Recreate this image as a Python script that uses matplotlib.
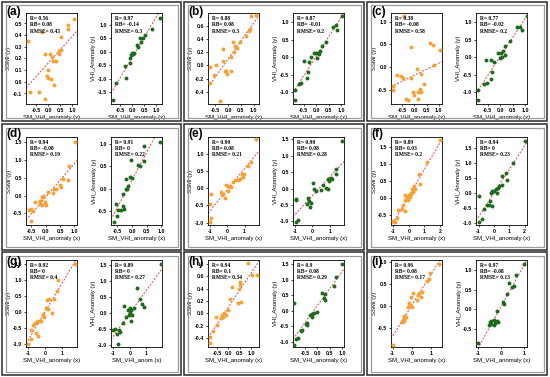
import numpy as np
import matplotlib
matplotlib.use("Agg")
import matplotlib.pyplot as plt
from matplotlib.patches import Rectangle
from matplotlib.ticker import MultipleLocator

plt.rcParams["axes.unicode_minus"] = False
plt.rcParams["font.family"] = ["Liberation Sans", "DejaVu Sans"]

# ---- data ---------------------------------------------------------------
panel_names = ["(a)", "(b)", "(c)", "(d)", "(e)", "(f)", "(g)", "(h)", "(i)"]

a_ssmi_x = [1.10, 0.85, 0.82, -0.26, -0.85, 0.56, -0.11, 0.08, 0.44, 0.22, 0.33, 0.17, 0.47, 0.56, -0.01, -0.04, -0.01, 0.12, 0.26, -0.75, -0.36, -0.11]
a_ssmi_y = [0.54, 0.49, 0.45, 0.43, 0.35, 0.38, 0.24, 0.24, 0.24, 0.18, 0.18, 0.21, 0.26, 0.27, 0.10, 0.05, 0.03, 0.02, -0.03, -0.09, -0.09, -0.15]
a_vhi_x = [1.13, 0.82, 0.53, 0.46, 0.32, 0.36, 0.19, 0.23, 0.05, -0.01, -0.04, -0.08, -0.11, -0.31, -0.26, -0.69, -0.80, 0.03]
a_vhi_y = [1.26, 0.87, 0.64, 0.51, 0.51, 0.35, 0.26, 0.17, -0.04, -0.06, -0.13, -0.22, -0.42, -0.53, -0.96, -1.15, -1.80, -0.09]

b_ssmi_x = [1.09, 0.89, 0.87, 0.83, 0.70, 0.46, 0.20, 0.26, 0.33, 0.24, 0.13, -0.20, -0.20, -0.46, -0.72, -0.55, -0.13, -0.03, 0.11, -0.70, -0.33, -0.10]
b_ssmi_y = [0.76, 0.75, 0.55, 0.52, 0.45, 0.36, 0.36, 0.30, 0.27, 0.21, 0.13, 0.25, 0.07, 0.00, -0.02, -0.14, -0.09, -0.13, -0.09, -0.26, -0.54, -0.08]
b_vhi_x = [1.05, 0.81, 0.67, 0.85, 0.40, 0.22, 0.16, 0.08, -0.08, -0.01, 0.12, 0.05, -0.22, -0.49, -0.29, -0.33, -0.38, -0.59, -0.67, -0.84, -0.86]
b_vhi_y = [1.17, 0.92, 0.87, 0.77, 0.45, 0.32, 0.17, 0.12, 0.14, 0.12, 0.10, -0.03, 0.02, -0.10, -0.13, -0.41, -0.60, -0.73, -0.76, -0.93, -1.21]

c_ssmi_x = [-0.42, 0.63, 0.76, -0.14, 1.04, 0.81, 0.11, -0.72, -0.56, -0.49, -0.14, -0.90, -0.90, 0.38, 0.21, 0.14, -0.07, -0.03, 0.14, -0.35, -0.28, 0.28, 0.28]
c_ssmi_y = [1.12, 0.54, 0.48, 0.44, 0.37, 0.04, -0.04, -0.17, -0.19, -0.23, -0.23, -0.42, -0.50, -0.37, -0.48, -0.54, -0.55, -0.62, -0.71, -0.69, -0.72, -0.14, -0.54]
c_vhi_x = [1.06, 0.80, 0.66, 0.88, 0.38, 0.19, 0.13, 0.05, -0.10, -0.36, -0.56, -0.25, -0.32, -0.38, -0.54, -0.66, -0.88, -0.88, 0.00, 0.08, 0.20]
c_vhi_y = [1.17, 0.87, 0.87, 0.77, 0.47, 0.34, 0.17, 0.12, 0.14, -0.08, -0.08, -0.13, -0.43, -0.63, -0.73, -0.76, -0.93, -1.23, -0.03, 0.02, 0.07]

d_ssmi_x = [1.01, 0.81, 0.78, 0.61, 0.50, 0.53, 0.37, 0.29, 0.26, 0.09, -0.08, -0.13, -0.19, -0.21, -0.13, -0.36, -0.02, 0.01, -0.52, -0.44, -0.58, -0.52, -0.21]
d_ssmi_y = [1.51, 0.82, 0.44, 0.47, 0.31, 0.24, 0.19, 0.19, 0.07, 0.11, 0.00, -0.03, -0.16, -0.24, -0.26, -0.19, -0.19, -0.28, -0.38, -0.44, -0.41, -0.73, -0.16]
d_vhi_x = [0.94, 0.41, 0.42, 0.20, 0.28, -0.04, -0.22, -0.08, 0.01, -0.13, -0.20, -0.31, -0.17, -0.31, -0.48, -0.56, -0.39, -0.53, -0.61, -0.28]
d_vhi_y = [1.04, 0.96, 0.61, 0.52, 0.50, 0.63, 0.22, 0.26, 0.24, 0.07, -0.01, -0.11, 0.00, -0.37, -0.47, -0.33, -0.47, -0.59, -0.73, -0.44]

e_ssmi_x = [1.65, 1.35, 1.21, 0.98, 0.83, 0.92, 0.73, 0.60, 0.44, 0.35, 0.25, 0.06, -0.04, 0.06, -0.23, -0.29, -0.33, -0.10, -0.94, -1.00, -0.90, -1.00]
e_ssmi_y = [1.43, 0.76, 0.66, 0.40, 0.40, 0.33, 0.26, 0.23, 0.25, 0.18, 0.05, 0.06, 0.10, -0.07, -0.17, -0.20, -0.12, -0.27, -0.17, -0.47, -0.87, -0.97]
e_vhi_x = [1.71, 1.38, 1.38, 1.10, 1.15, 0.90, 0.94, 0.81, 0.90, 0.62, 0.52, 0.23, 0.10, 0.04, -0.25, -0.21, -0.29, -0.10, -0.15, -0.92, -0.96, -0.83, -0.92]
e_vhi_y = [1.46, 0.59, 0.43, 0.33, 0.28, 0.30, 0.23, 0.02, -0.01, 0.12, -0.03, -0.08, -0.01, 0.18, -0.29, -0.39, -0.46, -0.44, -0.55, -0.32, -0.36, -0.96, -1.02]

f_ssmi_x = [2.00, 1.20, 0.64, 0.71, 0.34, 0.39, 0.28, 0.13, 0.00, -0.26, -0.15, 0.06, -0.04, -0.26, -0.36, -0.47, -0.26, -0.69, -0.79, -0.90, -1.00, 0.17]
f_ssmi_y = [1.70, 1.05, 0.70, 0.40, 0.35, 0.25, 0.17, 0.13, 0.10, 0.10, 0.03, 0.03, -0.05, -0.07, -0.20, -0.33, -0.40, -0.35, -0.60, -0.70, -0.67, 0.25]
f_vhi_x = [2.02, 1.23, 0.81, 0.53, 0.87, 0.49, 0.34, 0.23, 0.11, 0.02, 0.17, -0.15, -0.21, -0.26, -0.32, -0.15, -0.47, -0.62, -0.79, -0.96, -1.00]
f_vhi_y = [1.76, 1.02, 0.68, 0.57, 0.43, 0.28, 0.23, 0.17, 0.14, 0.06, 0.00, 0.06, 0.00, -0.28, -0.40, -0.45, -0.40, -0.55, -0.89, -0.11, -0.97]

g_ssmi_x = [1.75, 0.79, 0.69, 0.54, 0.25, 0.15, 0.06, 0.19, 0.40, -0.10, -0.13, -0.04, -0.23, -0.48, -0.42, -0.56, -0.71, -0.81, -0.37, -0.81, -1.00, -0.52]
g_ssmi_y = [1.50, 1.00, 0.67, 0.41, 0.40, 0.38, 0.15, 0.11, -0.02, -0.04, -0.11, -0.15, -0.27, -0.30, -0.28, -0.32, -0.41, -0.56, -0.75, -0.82, -0.98, -0.65]
g_vhi_x = [1.92, 0.46, 0.60, 0.73, 0.88, -0.37, 0.00, 0.25, -0.10, 0.10, 0.00, -0.06, 0.15, -0.21, 0.10, -0.42, -0.65, -0.90, -1.00, -0.79, -0.73, -0.58]
g_vhi_y = [1.52, 0.78, 0.43, 0.29, 0.19, 0.21, 0.17, 0.17, 0.10, 0.08, 0.00, -0.07, -0.07, -0.13, -0.25, -0.31, -0.52, -0.49, -0.54, -0.67, -0.96, -0.60]

h_ssmi_x = [0.88, 1.03, 1.25, 0.51, 0.51, 0.48, 0.16, 0.58, 0.43, 0.06, -0.04, -0.19, -0.28, -0.24, -0.31, -0.09, -0.54, -0.51, -0.69, -0.84, -0.81]
h_ssmi_y = [0.81, 0.62, 0.62, 0.51, 0.45, 0.39, 0.42, 0.19, 0.17, 0.23, 0.06, 0.00, -0.03, -0.05, -0.08, -0.03, -0.05, -0.19, -0.28, -0.38, -0.48]
h_vhi_x = [0.99, 0.75, 0.65, 0.19, 0.29, 0.26, 0.29, -0.01, -0.15, -0.22, -0.29, -0.22, -0.40, -0.46, -0.43, -0.60, -0.64, -0.78, -0.85, -0.94, -0.94]
h_vhi_y = [1.51, 1.10, 0.80, 0.56, 0.54, 0.42, 0.34, -0.03, -0.06, -0.09, -0.14, -0.19, -0.38, -0.43, -0.46, -0.62, -0.66, -0.86, -0.89, 0.26, -1.08]

i_ssmi_x = [1.44, 0.97, 0.92, 0.80, 0.52, 0.40, 0.31, 0.05, 0.49, 0.28, -0.03, -0.12, -0.07, 0.00, -0.21, -0.38, -0.43, -0.47, -0.38, -0.31, -0.50, -0.99]
i_ssmi_y = [0.95, 0.75, 0.62, 0.57, 0.32, 0.30, 0.25, 0.30, 0.21, 0.14, 0.21, 0.06, 0.02, -0.02, -0.02, -0.23, -0.28, -0.32, -0.33, -0.24, -0.35, -0.88]
i_vhi_x = [1.03, 0.67, 0.35, 0.57, 0.49, 0.25, 0.10, 0.13, -0.16, -0.19, -0.26, -0.33, -0.45, -0.42, -0.52, -0.12, -0.30, -0.48, -1.00]
i_vhi_y = [1.15, 0.87, 0.68, 0.59, 0.56, 0.38, 0.19, 0.13, -0.04, -0.30, -0.35, -0.28, -0.30, -0.37, -0.41, -0.32, -0.41, -0.33, -0.88]

ssmi_x = [a_ssmi_x, b_ssmi_x, c_ssmi_x, d_ssmi_x, e_ssmi_x, f_ssmi_x, g_ssmi_x, h_ssmi_x, i_ssmi_x]
ssmi_y = [a_ssmi_y, b_ssmi_y, c_ssmi_y, d_ssmi_y, e_ssmi_y, f_ssmi_y, g_ssmi_y, h_ssmi_y, i_ssmi_y]
vhi_x = [a_vhi_x, b_vhi_x, c_vhi_x, d_vhi_x, e_vhi_x, f_vhi_x, g_vhi_x, h_vhi_x, i_vhi_x]
vhi_y = [a_vhi_y, b_vhi_y, c_vhi_y, d_vhi_y, e_vhi_y, f_vhi_y, g_vhi_y, h_vhi_y, i_vhi_y]

ssmi_R = ["0.56", "0.88", "0.38", "0.94", "0.90", "0.89", "0.92", "0.94", "0.96"]
ssmi_RB = ["0.08", "0.08", "-0.08", "-0.08", "0.08", "0.03", "0", "0.1", "0.08"]
ssmi_RMSE = ["0.43", "0.3", "0.58", "0.19", "0.21", "0.2", "0.4", "0.34", "0.17"]
vhi_R = ["0.97", "0.87", "0.77", "0.91", "0.90", "0.94", "0.89", "0.9", "0.97"]
vhi_RB = ["-0.14", "-0.01", "-0.02", "0", "0.08", "0", "0", "0.08", "-0.08"]
vhi_RMSE = ["0.3", "0.2", "0.2", "0.22", "0.28", "0.23", "0.27", "0.29", "0.13"]

vhi_xlabels = ["SM_VHI_anomaly (x)"] * 6 + ["SM_VHI_anom (x)", "SM_VHI_anomaly (x)", "SM_VHI_anomaly (x)"]

# ---- layout (pixels, origin top-left) -----------------------------------
W, H = 550, 377
ssmi_lims = [((-0.92, 1.21), (-0.19, 0.59)), ((-0.79, 1.21), (-0.58, 0.79)), ((-0.97, 1.14), (-0.81, 1.19)),
             ((-0.69, 1.09), (-0.83, 1.65)), ((-1.10, 1.83), (-1.07, 1.49)), ((-1.16, 2.14), (-0.80, 1.80)),
             ((-1.10, 1.88), (-1.08, 1.63)), ((-0.91, 1.36), (-0.54, 0.86)), ((-1.08, 1.57), (-0.92, 1.04))]
vhi_lims = [((-0.89, 1.23), (-1.95, 1.45)), ((-0.93, 1.12), (-1.33, 1.27)), ((-0.97, 1.08), (-1.33, 1.27)),
            ((-0.72, 1.02), (-0.80, 1.15)), ((-1.12, 1.83), (-1.11, 1.57)), ((-1.17, 2.15), (-1.08, 1.88)),
            ((-1.15, 1.97), (-1.06, 1.65)), ((-0.98, 1.07), (-1.16, 1.63)), ((-1.10, 1.14), (-0.97, 1.26))]
ssmi_steps = [(0.5, 0.1), (0.5, 0.2), (0.5, 0.5), (0.5, 0.5), (1.0, 0.5), (1.0, 0.5), (1.0, 0.5), (0.5, 0.2), (1.0, 0.5)]
vhi_steps = [(0.5, 0.5), (0.5, 0.5), (0.5, 0.5), (0.5, 0.5), (1.0, 0.5), (1.0, 0.5), (1.0, 0.5), (0.5, 0.5), (1.0, 0.5)]

col_left = [2, 184, 367]
col_w = [179, 180, 180]
row_top = [2, 124, 252]
row_h = [119, 126, 123]
ax_top = [13, 137, 260]
ax_bot = [104, 225, 347]

fig = plt.figure(figsize=(W / 100, H / 100), dpi=100)


def frac(x, y, w, h):
    return [x / W, 1 - (y + h) / H, w / W, h / H]


def draw_scatter(ax, x, y, color, lims, steps, stats, ylabel, xlabel):
    ax.scatter(x, y, s=8, color=color, linewidths=0, zorder=3)
    k, b = np.polyfit(x, y, 1)
    xx = np.array(lims[0])
    ax.plot(xx, k * xx + b, color="#e8413c", lw=0.7, ls=(0, (2, 1.6)), zorder=2)
    ax.set_xlim(*lims[0])
    ax.set_ylim(*lims[1])
    ax.xaxis.set_major_locator(MultipleLocator(steps[0]))
    ax.yaxis.set_major_locator(MultipleLocator(steps[1]))
    ax.tick_params(labelsize=3.8, length=1.6, width=0.5, pad=1.0)
    for lab in ax.get_xticklabels() + ax.get_yticklabels():
        lab.set_fontweight("bold")
    for sp in ax.spines.values():
        sp.set_linewidth(0.6)
    ax.set_xlabel(xlabel, fontsize=4.3, labelpad=2.0)
    ax.set_ylabel(ylabel, fontsize=4.3, labelpad=1.2)
    ax.text(0.07, 0.97, "R= %s\nRB= %s\nRMSE= %s" % stats, transform=ax.transAxes,
            va="top", ha="left", fontsize=4.0, fontweight="bold",
            family="Liberation Serif", linespacing=1.35)


for p in range(9):
    r, c = divmod(p, 3)
    px, py, pw, ph = col_left[c], row_top[r], col_w[c], row_h[r]
    fig.add_artist(Rectangle((px / W, 1 - (py + ph) / H), pw / W, ph / H, transform=fig.transFigure,
                             fill=False, ec="#2a2a2a", lw=1.1))
    fig.add_artist(Rectangle(((px + 3.5) / W, 1 - (py + ph - 3.5) / H), (pw - 7) / W, (ph - 7) / H,
                             transform=fig.transFigure, fill=False, ec="#9a9a9a", lw=0.9))
    fig.text((px + 4) / W, 1 - (py + 4) / H, panel_names[p], fontsize=8.5, fontweight="bold",
             va="top", ha="left")

    top, bot = ax_top[r], ax_bot[r]
    ax1 = fig.add_axes(frac(px + 24, top, 51, bot - top))
    draw_scatter(ax1, ssmi_x[p], ssmi_y[p], "#f7a034", ssmi_lims[p], ssmi_steps[p],
                 (ssmi_R[p], ssmi_RB[p], ssmi_RMSE[p]), "SSMI (y)", "SM_VHI_anomaly (x)")
    ax2 = fig.add_axes(frac(px + 109, top, 51, bot - top))
    draw_scatter(ax2, vhi_x[p], vhi_y[p], "#1e6b1e", vhi_lims[p], vhi_steps[p],
                 (vhi_R[p], vhi_RB[p], vhi_RMSE[p]), "VHI_Anomaly (y)", vhi_xlabels[p])

fig.savefig("out.png", dpi=100)
